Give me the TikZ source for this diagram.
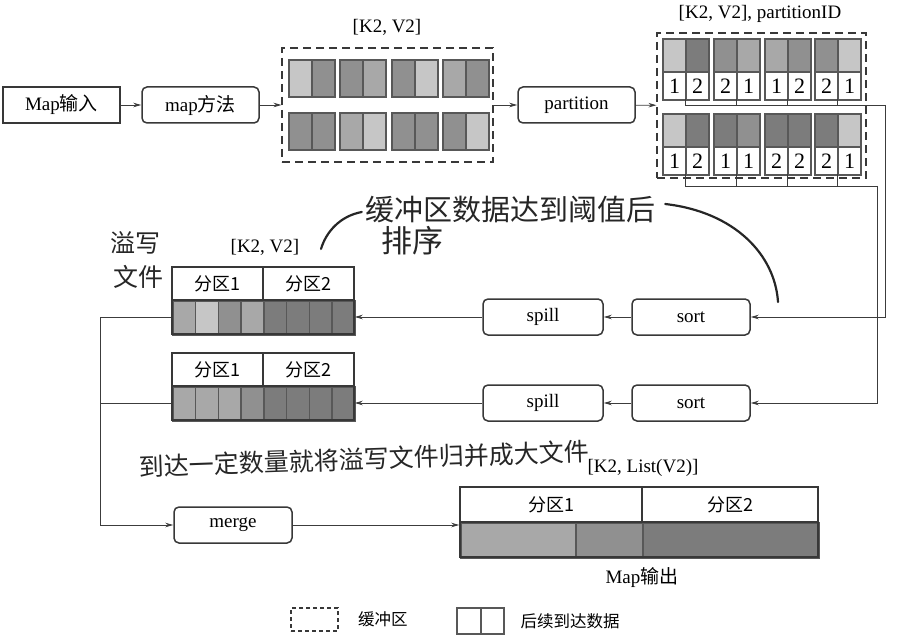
\documentclass[tikz,border=0pt]{standalone}
\usepackage{fontspec}
\setmainfont{Liberation Serif}
\newfontfamily\cjk{Noto Sans CJK SC}
\newfontfamily\hand{Noto Sans CJK SC}
\usetikzlibrary{
  positioning,
  arrows.meta,
  calc,
}
\definecolor{border}{HTML}{383838}
\definecolor{cellEdge}{HTML}{585858}
\definecolor{shadeA}{HTML}{C6C6C6}
\definecolor{shadeB}{HTML}{A8A8A8}
\definecolor{shadeC}{HTML}{909090}
\definecolor{shadeD}{HTML}{7C7C7C}
\definecolor{lineCol}{HTML}{3C3C3C}
\definecolor{inkCol}{HTML}{262626}
\tikzset{
  procbox/.style={
    rectangle, rounded corners=5pt, draw=border, fill=white,
    minimum width=117pt, minimum height=36pt, line width=1.5pt,
    font=\fontsize{19}{21}\selectfont, inner sep=2pt,
  },
  inbox/.style={procbox, rounded corners=0pt},
  bufframe/.style={
    rectangle, draw=border, dash pattern=on 8pt off 5pt,
    line width=1.1pt, inner sep=0pt,
  },
  cell/.style={
    rectangle, draw=cellEdge, line width=2pt, inner sep=0pt,
    minimum width=23pt, minimum height=37pt,
  },
  numcell/.style={
    cell, fill=white, minimum height=28pt,
    font=\fontsize{22}{24}\selectfont,
  },
  scell/.style={
    rectangle, draw=cellEdge, line width=1.5pt, inner sep=0pt,
    minimum width=22.75pt, minimum height=34pt,
  },
  strip/.style={rectangle, draw=border, line width=1.5pt, inner sep=0pt},
  hdr/.style={
    rectangle, draw=border, fill=white, line width=1.5pt, inner sep=0pt,
    minimum height=33pt, font=\cjk\fontsize{18}{20}\selectfont,
  },
  tag/.style={font=\fontsize{19}{21}\selectfont},
  arrow/.style={-{Stealth[length=8pt,width=4.5pt]}, lineCol, line width=0.8pt},
  wire/.style={lineCol, line width=0.8pt},
  pen/.style={inkCol, line width=2.2pt, line cap=round},
  note/.style={font=\hand\fontsize{29}{31}\selectfont, text=inkCol, inner sep=0pt},
  legtext/.style={font=\cjk\fontsize{16.5}{18}\selectfont},
}

\begin{document}
\begin{tikzpicture}[x=1pt, y=-1pt]
  \useasboundingbox (0,0) rectangle (910,639);

  % top row
  \node[inbox] (mapin) at (61.5,105) {Map{\cjk 输入}};
  \node[procbox] (mapfn) at (200.5,105) {map{\cjk 方法}};
  \node[bufframe, minimum width=211pt, minimum height=114pt] (bufA) at (387.5,105) {};
  \node[procbox] (part) at (576.5,105) {partition};
  \node[bufframe, minimum width=209pt, minimum height=145pt] (bufB) at (761.5,105.5) {};
  \node[tag] (tagA) at (387,27) {[K2, V2]};
  \node[tag] (tagB) at (760,14) {[K2, V2], partitionID};

  % buffer before partition
  \foreach \x/\ca/\cb in {288/shadeA/shadeC, 339/shadeC/shadeB, 391/shadeC/shadeA, 442/shadeB/shadeC} {
    \node[cell, fill=\ca, anchor=north west] at (\x,59) {};
    \node[cell, fill=\cb, anchor=north west] at (\x+23,59) {};
  }
  \foreach \x/\ca/\cb in {288/shadeC/shadeC, 339/shadeB/shadeA, 391/shadeC/shadeC, 442/shadeC/shadeA} {
    \node[cell, fill=\ca, anchor=north west] at (\x,112) {};
    \node[cell, fill=\cb, anchor=north west] at (\x+23,112) {};
  }

  % buffer with partition ids
  \foreach \x/\ca/\cb/\na/\nb [count=\i] in {662/shadeA/shadeD/1/2, 713/shadeC/shadeB/2/1, 764/shadeB/shadeC/1/2, 814/shadeC/shadeA/2/1} {
    \node[cell, fill=\ca, minimum height=33pt, anchor=north west] at (\x,38) {};
    \node[cell, fill=\cb, minimum height=33pt, anchor=north west] at (\x+23,38) {};
    \node[numcell, anchor=north west] at (\x,71) {\na};
    \node[numcell, anchor=north west] at (\x+23,71) {\nb};
    \coordinate (dropA\i) at (\x+23,99);
  }
  \foreach \x/\ca/\cb/\na/\nb [count=\i] in {662/shadeA/shadeD/1/2, 713/shadeD/shadeC/1/1, 764/shadeD/shadeD/2/2, 814/shadeD/shadeA/2/1} {
    \node[cell, fill=\ca, minimum height=33pt, anchor=north west] at (\x,113) {};
    \node[cell, fill=\cb, minimum height=33pt, anchor=north west] at (\x+23,113) {};
    \node[numcell, anchor=north west] at (\x,146) {\na};
    \node[numcell, anchor=north west] at (\x+23,146) {\nb};
    \coordinate (dropB\i) at (\x+23,174);
  }

  \draw[arrow] (mapin) -- (mapfn);
  \draw[arrow] (mapfn) -- (bufA);
  \draw[arrow] (bufA) -- (part);
  \draw[arrow] (part) -- (bufB);

  % sort and spill
  \node[procbox, minimum width=118pt] (sortA) at (691,317) {sort};
  \node[procbox, minimum width=120pt] (spillA) at (543,317) {spill};
  \node[procbox, minimum width=118pt] (sortB) at (691,403) {sort};
  \node[procbox, minimum width=120pt] (spillB) at (543,403) {spill};

  \coordinate (busA) at (885,105);
  \coordinate (busB) at (877,186);
  \foreach \i in {2,3,4} {
    \draw[wire] (dropA\i) -- (dropA\i |- busA);
    \draw[wire] (dropB\i) -- (dropB\i |- busB);
  }
  \draw[wire] (dropA1) |- (busA);
  \draw[arrow] (busA) |- (sortA);
  \draw[wire] (dropB1) |- (busB);
  \draw[arrow] (busB) |- (sortB);
  \draw[arrow] (sortA) -- (spillA);
  \draw[arrow] (sortB) -- (spillB);

  % spill files
  \foreach \c [count=\i from 0] in {shadeB,shadeA,shadeC,shadeB,shadeD,shadeD,shadeD,shadeD}
    \node[scell, fill=\c, anchor=north west] at (172+\i*22.75,300) {};
  \node[strip, minimum width=182pt, minimum height=34pt] (fileA) at (263,317) {};
  \node[hdr, minimum width=91pt] (fileA1) at (217.5,283.5) {分区1};
  \node[hdr, minimum width=91pt] (fileA2) at (308.5,283.5) {分区2};
  \node[tag] (tagC) at (265,247) {[K2, V2]};

  \foreach \c [count=\i from 0] in {shadeB,shadeB,shadeB,shadeC,shadeD,shadeD,shadeD,shadeD}
    \node[scell, fill=\c, anchor=north west] at (172+\i*22.75,386) {};
  \node[strip, minimum width=182pt, minimum height=34pt] (fileB) at (263,403) {};
  \node[hdr, minimum width=91pt] (fileB1) at (217.5,369.5) {分区1};
  \node[hdr, minimum width=91pt] (fileB2) at (308.5,369.5) {分区2};

  \draw[arrow] (spillA) -- (fileA);
  \draw[arrow] (spillB) -- (fileB);

  % merge and map output
  \node[procbox, minimum width=118pt] (merge) at (233,525) {merge};
  \coordinate (loop) at (100,525);
  \draw[wire] (fileA.west) -| (loop);
  \draw[wire] (fileB.west) -- (fileB.west -| loop);
  \draw[arrow] (loop) -- (merge);

  \node[scell, fill=shadeB, minimum width=115pt, minimum height=35pt, anchor=north west] at (460,522) {};
  \node[scell, fill=shadeC, minimum width=67pt, minimum height=35pt, anchor=north west] at (575,522) {};
  \node[scell, fill=shadeD, minimum width=176pt, minimum height=35pt, anchor=north west] at (642,522) {};
  \node[strip, minimum width=358pt, minimum height=35pt] (outs) at (639,539.5) {};
  \node[hdr, minimum width=182pt, minimum height=35pt] (outh1) at (551,504.5) {分区1};
  \node[hdr, minimum width=176pt, minimum height=35pt] (outh2) at (730,504.5) {分区2};
  \node[tag] (tagD) at (643,468) {[K2, List(V2)]};
  \node[tag] (outlbl) at (642,578) {Map{\cjk 输出}};
  \draw[arrow] (merge) -- (merge -| outs.west);

  % handwritten notes
  \node[note] (noteA) at (510,210) {缓冲区数据达到阈值后};
  \node[note, font=\hand\fontsize{31}{33}\selectfont] (noteB) at (412,241) {排序};
  \draw[pen] (noteA.west) ++(-3,2) .. controls (340,216) and (326,232) .. (321,249);
  \draw[pen] (noteA.east) ++(10,-6) .. controls (735,212) and (775,255) .. (778,302);
  \node[note, font=\hand\fontsize{25}{27}\selectfont] (noteC) at (135,243) {溢写};
  \node[note, font=\hand\fontsize{25}{27}\selectfont] (noteD) at (138,277) {文件};
  \node[note, font=\hand\fontsize{25}{27}\selectfont, rotate=2] (noteE) at (364,459) {到达一定数量就将溢写文件归并成大文件};

  % legend
  \node[bufframe, minimum width=47pt, minimum height=23pt, dash pattern=on 4pt off 3pt] (legA) at (314.5,619.5) {};
  \node[legtext, right=16pt of legA] (legAt) {缓冲区};
  \node[cell, fill=white, minimum height=26pt, minimum width=23.5pt, anchor=north west] (legB1) at (456,607) {};
  \node[cell, fill=white, minimum height=26pt, minimum width=23.5pt, anchor=north west] (legB2) at (479.5,607) {};
  \node[legtext, right=12pt of legB2] (legBt) {后续到达数据};

\end{tikzpicture}
\end{document}
